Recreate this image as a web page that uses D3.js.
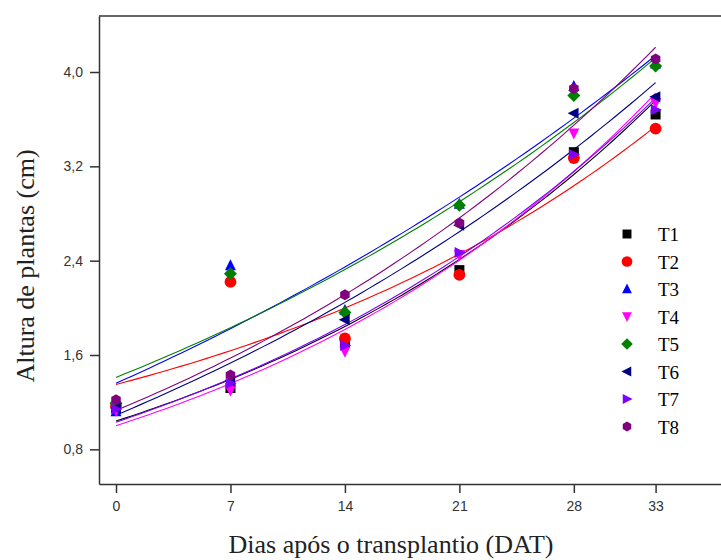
<!DOCTYPE html>
<html>
<head>
<meta charset="utf-8">
<script src="https://cdn.jsdelivr.net/npm/d3@7"></script>
<style>
  body { margin: 0; background: #fff; }
</style>
</head>
<body>
<script>
// ---------------- Altura de plantas x DAT ----------------

let w = 721
let h = 560

let days = [0, 7, 14, 21, 28, 33]
let yTicks = [0.8, 1.6, 2.4, 3.2, 4.0]
let treatments = ["T1", "T2", "T3", "T4", "T5", "T6", "T7", "T8"]

// observed means per treatment
let t1 = [1.15, 1.32, 1.71, 2.32, 3.32, 3.64]
let t2 = [1.17, 2.22, 1.74, 2.28, 3.27, 3.52]
let t3 = [1.12, 2.36, 1.98, 2.88, 3.88, 4.07]
let t4 = [1.13, 1.30, 1.63, 2.45, 3.48, 3.74]
let t5 = [1.19, 2.29, 1.96, 2.87, 3.80, 4.05]
let t6 = [1.15, 1.38, 1.90, 2.70, 3.65, 3.79]
let t7 = [1.14, 1.36, 1.68, 2.47, 3.30, 3.68]
let t8 = [1.22, 1.43, 2.11, 2.72, 3.86, 4.11]

// fitted curve read at day 0, 16.5 and 33
let fitStart = [1.04, 1.35, 1.36, 1.00, 1.41, 1.09, 1.03, 1.13]
let fitMid   = [2.03, 2.15, 2.55, 2.01, 2.52, 2.25, 2.05, 2.33]
let fitEnd   = [3.76, 3.54, 4.14, 3.82, 4.12, 3.91, 3.78, 4.21]

let colors = ["#000000", "#ff0000", "#0000ff", "#ff00ff", "#008000", "#000080", "#8000ff", "#800080"]

let series = [t1, t2, t3, t4, t5, t6, t7, t8]

// custom marker shapes (r = half size)
function poly(pts) {
  return {
    draw(ctx, size) {
      let r = Math.sqrt(size) / 2
      pts.forEach((p, i) => i ? ctx.lineTo(p[0] * r, p[1] * r) : ctx.moveTo(p[0] * r, p[1] * r))
      ctx.closePath()
    }
  }
}
let hex = d3.range(6).map(i => [Math.cos(Math.PI / 6 + i * Math.PI / 3) * 1.1, Math.sin(Math.PI / 6 + i * Math.PI / 3) * 1.1])
let shapes = [
  poly([[-1, -1], [1, -1], [1, 1], [-1, 1]]),
  d3.symbolCircle,
  poly([[0, -1.25], [1.1, 0.95], [-1.1, 0.95]]),
  poly([[0, 1.25], [1.1, -0.95], [-1.1, -0.95]]),
  poly([[0, -1.3], [1.3, 0], [0, 1.3], [-1.3, 0]]),
  poly([[-1.25, 0], [0.95, -1.1], [0.95, 1.1]]),
  poly([[1.25, 0], [-0.95, -1.1], [-0.95, 1.1]]),
  poly(hex)
]

let svg = d3.select("body")
  .append("svg")
  .attr("width", w)
  .attr("height", h)

let x = d3.scaleLinear().domain([-1.04, 37]).range([99, 721])
let y = d3.scaleLinear().domain([0.506, 4.475]).range([484, 16])

// frame: top line
svg.append("line")
  .attr("x1", 99).attr("x2", 721)
  .attr("y1", 16).attr("y2", 16)
  .attr("stroke", "#333").attr("stroke-width", 1.5)

let xAxis = svg.append("g")
  .attr("transform", "translate(0,484)")
  .call(d3.axisBottom(x).tickValues(days).tickSize(9).tickSizeOuter(0).tickPadding(8))
let yAxis = svg.append("g")
  .attr("transform", "translate(99,0)")
  .call(d3.axisLeft(y).tickValues(yTicks).tickSize(9).tickSizeOuter(0).tickPadding(7)
    .tickFormat(d => d3.format(".1f")(d).replace(".", ",")))

svg.selectAll(".domain, .tick line").attr("stroke", "#333").attr("stroke-width", 1.5)
svg.selectAll(".tick text")
  .attr("font-family", "Liberation Sans, Arial, sans-serif")
  .attr("font-size", "14px")
  .attr("fill", "#333")

// fitted curves: y = c + A*exp(k*x) through the three read values
let line = d3.line().x(d => x(d[0])).y(d => y(d[1]))
let curves = treatments.map((t, i) => {
  let y0 = fitStart[i], y1 = fitMid[i], y2 = fitEnd[i]
  let r = (y2 - y1) / (y1 - y0)
  let k = Math.log(r) / 16.5
  let A = (y1 - y0) / (r - 1)
  let c = y0 - A
  return d3.range(0, 33.01, 0.5).map(d => [d, c + A * Math.exp(k * d)])
})

svg.selectAll("path.fit")
  .data(curves)
  .enter()
  .append("path")
  .attr("class", "fit")
  .attr("d", line)
  .attr("fill", "none")
  .attr("stroke", (d, i) => colors[i])
  .attr("stroke-width", 1.1)

// points
treatments.forEach((t, i) => {
  svg.selectAll("path.p" + i)
    .data(series[i])
    .enter()
    .append("path")
    .attr("class", "p" + i)
    .attr("transform", (d, j) => "translate(" + x(days[j]) + "," + y(d) + ")")
    .attr("d", d3.symbol().type(shapes[i]).size(i === 1 ? 110 : 100))
    .attr("fill", colors[i])
})

// legend
let legend = svg.selectAll("g.leg")
  .data(treatments)
  .enter()
  .append("g")
  .attr("class", "leg")
  .attr("transform", (d, i) => "translate(627," + (234 + i * 27.5) + ")")

legend.append("path")
  .attr("d", (d, i) => d3.symbol().type(shapes[i]).size(i === 1 ? 90 : 80)())
  .attr("fill", (d, i) => colors[i])

legend.append("text")
  .text(d => d)
  .attr("x", 31)
  .attr("y", 7)
  .attr("font-family", "Liberation Serif, Times New Roman, serif")
  .attr("font-size", "19px")
  .attr("fill", "#000")

// axis titles
svg.append("text")
  .text("Dias após o transplantio (DAT)")
  .attr("x", 391)
  .attr("y", 553)
  .attr("text-anchor", "middle")
  .attr("font-family", "Liberation Serif, Times New Roman, serif")
  .attr("font-size", "26px")
  .attr("fill", "#222")

svg.append("text")
  .text("Altura de plantas (cm)")
  .attr("transform", "translate(34,266) rotate(-90)")
  .attr("text-anchor", "middle")
  .attr("font-family", "Liberation Serif, Times New Roman, serif")
  .attr("font-size", "26px")
  .attr("fill", "#222")
</script>
</body>
</html>
